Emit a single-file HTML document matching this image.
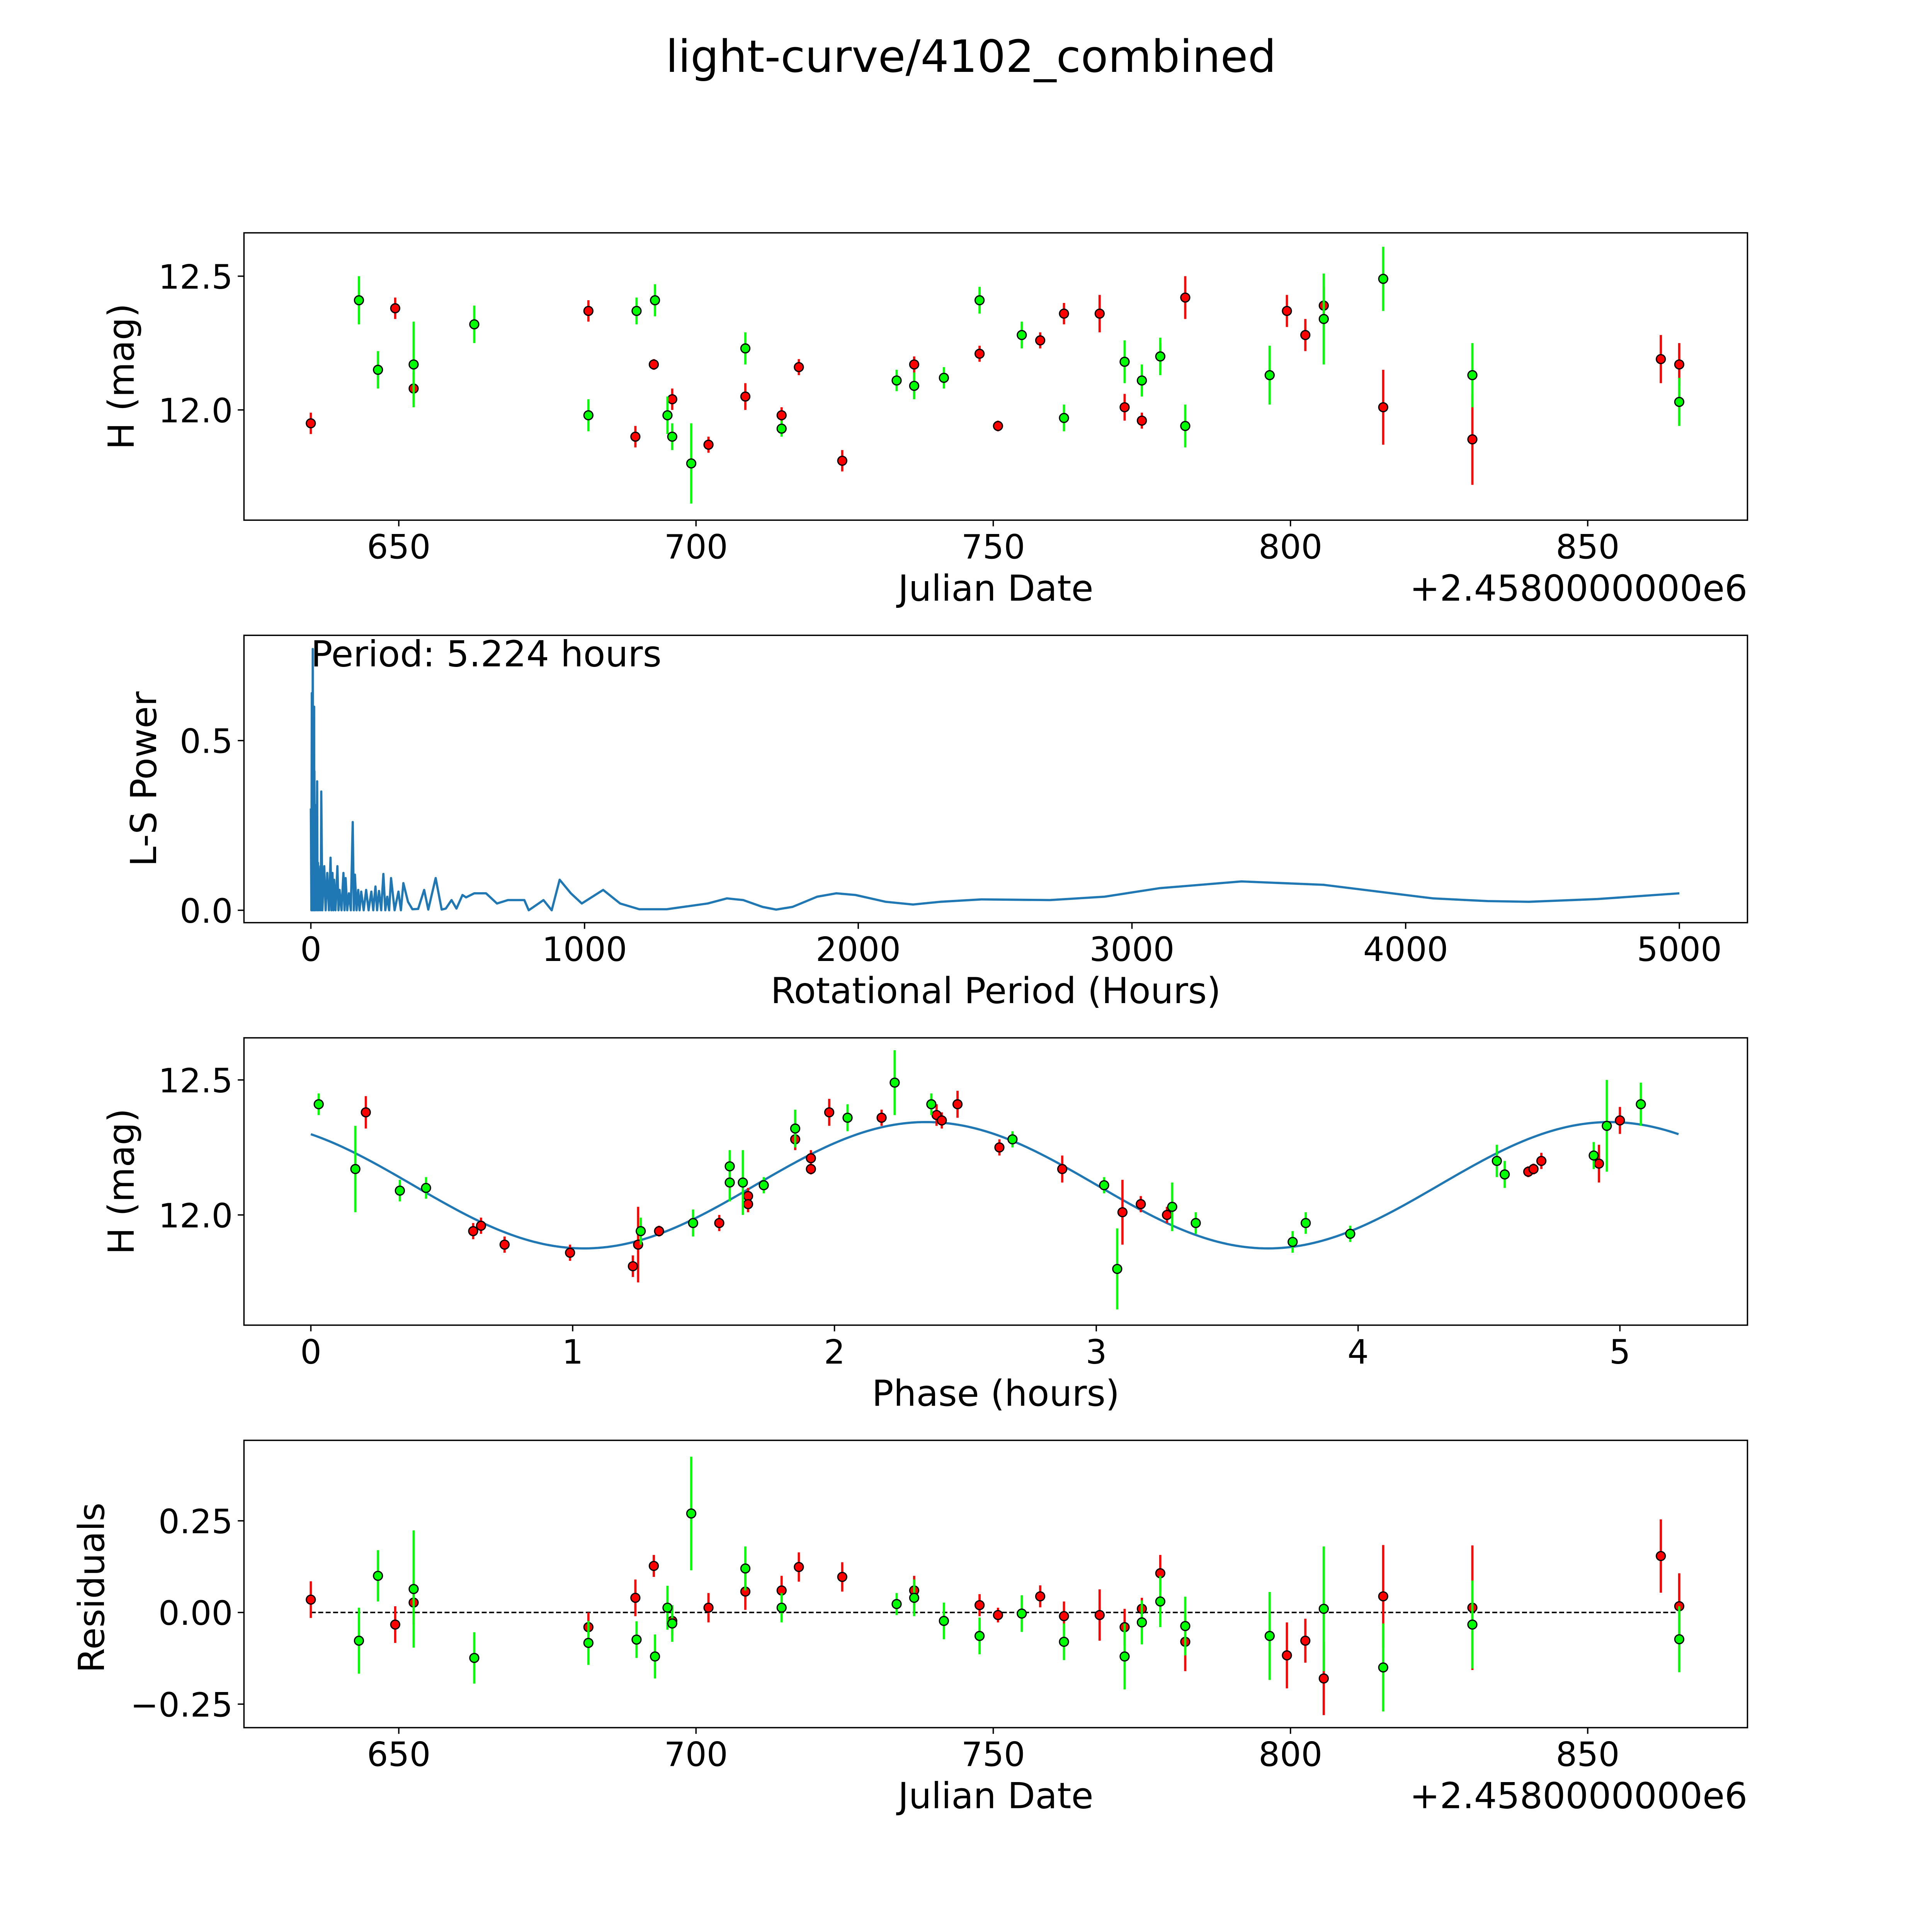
<!DOCTYPE html>
<html><head><meta charset="utf-8"><style>
html,body{margin:0;padding:0;background:#fff;overflow:hidden;width:100%;height:100%}
svg{display:block;width:100vw;height:100vh}
text{font-family:"DejaVu Sans","Liberation Sans",sans-serif;fill:#000}
</style></head><body>
<svg id="fig" viewBox="0 0 1560 1560" preserveAspectRatio="none" xmlns="http://www.w3.org/2000/svg">
<rect width="1560" height="1560" fill="#fff"/>
<text x="784" y="58" font-size="36" text-anchor="middle">light-curve/4102_combined</text>
</svg>
<script>
// ---------- Panel 1: raw light curve ----------
const redDates=[635.2,649.4,652.5,681.9,689.8,692.9,696.0,702.1,708.3,714.4,717.3,724.6,736.7,747.7,750.8,757.9,761.9,767.9,772.1,775.0,778.1,782.3,799.4,802.5,805.6,815.6,830.6,862.3,865.4];
const redMags=[11.95,12.38,12.08,12.37,11.90,12.17,12.04,11.87,12.05,11.98,12.16,11.81,12.17,12.21,11.94,12.26,12.36,12.36,12.01,11.96,12.20,12.42,12.37,12.28,12.39,12.01,11.89,12.19,12.17];
const redErrs=[0.04,0.04,0.06,0.04,0.04,0.02,0.04,0.03,0.05,0.03,0.03,0.04,0.03,0.03,0.02,0.03,0.04,0.07,0.05,0.03,0.05,0.08,0.06,0.06,0.07,0.14,0.17,0.09,0.08];
const greenDates=[643.3,646.5,652.5,662.7,681.9,690.0,693.1,695.2,696.0,699.2,708.3,714.4,733.75,736.7,741.7,747.7,754.8,761.9,772.1,775.0,778.1,782.3,796.5,805.6,815.6,830.6,865.4];
const greenMags=[12.41,12.15,12.17,12.32,11.98,12.37,12.41,11.98,11.90,11.80,12.23,11.93,12.11,12.09,12.12,12.41,12.28,11.97,12.18,12.11,12.20,11.94,12.13,12.34,12.49,12.13,12.03];
const greenErrs=[0.09,0.07,0.16,0.07,0.06,0.05,0.06,0.07,0.05,0.15,0.06,0.03,0.04,0.05,0.04,0.05,0.05,0.05,0.08,0.06,0.07,0.08,0.11,0.17,0.12,0.12,0.09];
const p1Ticks=[650,700,750,800,850];
const magTicks=[12.0,12.5];
// ---------- Panel 2: periodogram ----------
const periods=[0,2,3.5,5,7,9,12,12.5,13,14,16.5,19,23,24.5,26,30,35,36.5,38,42,49,54,60,66,72,75,79,82,85,90,97,101,105,112,119,123,127,133,139,146,153,157,161,167,173,178,184,193,202,211,221,228,236,242,249,257,265,272,279,286,293,306,320,329,338,355,371,392,414,429,456,478,493,514,532,554,567,597,640,680,720,780,796,850,880,909,950,990,1068,1130,1200,1300,1450,1520,1580,1650,1700,1760,1850,1920,1990,2100,2200,2300,2450,2700,2900,3100,3400,3700,3900,4100,4300,4450,4700,5000];
const powers=[0.30,0.0,0.64,0.0,0.77,0.0,0.60,0.0,0.41,0.0,0.31,0.0,0.38,0.0,0.14,0.0,0.13,0.0,0.35,0.0,0.13,0.0,0.11,0.0,0.155,0.0,0.11,0.0,0.09,0.0,0.13,0.0,0.06,0.0,0.11,0.0,0.095,0.0,0.05,0.0,0.26,0.0,0.105,0.0,0.06,0.0,0.055,0.0,0.06,0.0,0.055,0.0,0.07,0.0,0.057,0.0,0.107,0.0,0.04,0.0,0.095,0.0,0.055,0.0,0.08,0.025,0.003,0.004,0.06,0.002,0.095,0.002,0.005,0.03,0.005,0.045,0.038,0.05,0.05,0.02,0.03,0.03,0.0,0.03,0.0,0.09,0.05,0.02,0.06,0.02,0.003,0.003,0.02,0.035,0.03,0.01,0.002,0.01,0.04,0.05,0.045,0.025,0.017,0.025,0.032,0.03,0.04,0.065,0.085,0.075,0.055,0.035,0.027,0.025,0.033,0.05];
const p2XTicks=[0,1000,2000,3000,4000,5000];
const p2YTicks=[0.0,0.5];
// ---------- Panel 3: phased ----------
const phRed=[0.21,0.62,0.65,0.74,0.99,1.23,1.25,1.33,1.56,1.67,1.67,1.85,1.91,1.91,1.98,2.18,2.39,2.41,2.47,2.63,2.87,3.10,3.17,3.27,4.65,4.67,4.70,4.92,5.00];
const phRedMag=[12.38,11.94,11.96,11.89,11.86,11.81,11.89,11.94,11.97,12.07,12.04,12.28,12.21,12.17,12.38,12.36,12.37,12.35,12.41,12.25,12.17,12.01,12.04,12.00,12.16,12.17,12.20,12.19,12.35];
const phRedErr=[0.06,0.03,0.03,0.03,0.03,0.04,0.14,0.02,0.03,0.03,0.03,0.04,0.03,0.02,0.05,0.03,0.04,0.03,0.05,0.03,0.05,0.12,0.03,0.03,0.02,0.02,0.03,0.07,0.05];
const phGreen=[0.03,0.17,0.34,0.44,1.26,1.46,1.60,1.60,1.65,1.73,1.85,2.05,2.23,2.37,2.68,3.03,3.08,3.29,3.38,3.75,3.80,3.97,4.53,4.56,4.90,4.95,5.08];
const phGreenMag=[12.41,12.17,12.09,12.10,11.94,11.97,12.18,12.12,12.12,12.11,12.32,12.36,12.49,12.41,12.28,12.11,11.80,12.03,11.97,11.90,11.97,11.93,12.20,12.15,12.22,12.33,12.41];
const phGreenErr=[0.04,0.16,0.04,0.04,0.05,0.05,0.06,0.07,0.12,0.03,0.07,0.05,0.12,0.04,0.03,0.03,0.15,0.09,0.04,0.04,0.04,0.03,0.06,0.05,0.05,0.17,0.08];
const fitMean=12.11, fitAmp=0.234, fitPeak=2.35, fitHalfPeriod=2.612, fitEnd=5.224;
const p3XTicks=[0,1,2,3,4,5];
// ---------- Panel 4: residuals ----------
const resRedDates=[635.2,649.4,652.5,681.9,689.8,692.9,696.0,702.1,708.3,714.4,717.3,724.6,736.7,747.7,750.8,757.9,761.9,767.9,772.1,775.0,778.1,782.3,799.4,802.5,805.6,815.6,830.6,862.3,865.4];
const resRed=[0.035,-0.033,0.027,-0.04,0.04,0.127,-0.023,0.013,0.057,0.06,0.124,0.097,0.06,0.02,-0.007,0.044,-0.01,-0.007,-0.04,0.01,0.107,-0.08,-0.117,-0.077,-0.18,0.044,0.013,0.154,0.017];
const resRedErr=[0.05,0.05,0.06,0.04,0.05,0.03,0.04,0.04,0.05,0.04,0.04,0.04,0.04,0.03,0.02,0.03,0.04,0.07,0.05,0.03,0.05,0.08,0.09,0.06,0.1,0.14,0.17,0.1,0.09];
const resGreenDates=[643.3,646.5,652.5,662.7,681.9,690.0,693.1,695.2,696.0,699.2,708.3,714.4,733.75,736.7,741.7,747.7,754.8,761.9,772.1,775.0,778.1,782.3,796.5,805.6,815.6,830.6,865.4];
const resGreen=[-0.077,0.10,0.064,-0.124,-0.083,-0.074,-0.12,0.013,-0.03,0.27,0.12,0.013,0.023,0.04,-0.023,-0.064,-0.003,-0.08,-0.12,-0.027,0.03,-0.037,-0.064,0.01,-0.15,-0.033,-0.073];
const resGreenErr=[0.09,0.07,0.16,0.07,0.06,0.05,0.06,0.06,0.05,0.155,0.06,0.04,0.03,0.05,0.05,0.05,0.05,0.05,0.09,0.06,0.07,0.08,0.12,0.17,0.12,0.12,0.09];
const resTicks=[0.25,0.0,-0.25];
const resTickLabels=["0.25","0.00","\u22120.25"];

const NS="http://www.w3.org/2000/svg";
const svg=document.getElementById('fig');
function mk(tag,attrs,parent){const e=document.createElementNS(NS,tag);for(const k in attrs)e.setAttribute(k,attrs[k]);(parent||svg).appendChild(e);return e;}
function lin(d0,d1,r0,r1){return v=>r0+(v-d0)*(r1-r0)/(d1-d0);}
const L=197,R=1411;
function frame(g,top,bot){const r=mk('rect',{x:L,y:top,width:R-L,height:bot-top,fill:'none',stroke:'#000','stroke-width':1.1},g);}
function xticks(g,vals,labels,sx,bot){vals.forEach((v,i)=>{const x=sx(v);const t=mk('line',{x1:x,x2:x,y1:bot,y2:bot+5,stroke:'#000','stroke-width':1.1},g);const tx=mk('text',{x:x,y:bot+31,'font-size':27,'text-anchor':'middle'},g);tx.textContent=labels[i];});}
function yticks(g,vals,labels,sy){vals.forEach((v,i)=>{const y=sy(v);const t=mk('line',{x1:L-5,x2:L,y1:y,y2:y,stroke:'#000','stroke-width':1.1},g);const tx=mk('text',{x:L-9,y:y+10,'font-size':27,'text-anchor':'end'},g);tx.textContent=labels[i];});}
function label(g,txt,x,y,rot,name,anchor){const a={x:x,y:y,'font-size':29,'text-anchor':anchor||'middle'};if(rot)a.transform='rotate(-90 '+x+' '+y+')';const t=mk('text',a,g);t.textContent=txt;}
function points(g,xs,ys,es,sx,sy,color,name){
  xs.forEach((xv,i)=>{const x=sx(xv);const l=mk('line',{x1:x,x2:x,y1:sy(ys[i]-es[i]),y2:sy(ys[i]+es[i]),stroke:color,'stroke-width':1.8},g);});
  xs.forEach((xv,i)=>{const c=mk('circle',{cx:sx(xv),cy:sy(ys[i]),r:3.6,fill:color,stroke:'#000','stroke-width':1},g);});
}
function group(name){const g=mk('g',{});return g;}

// Panel 1
(function(){const g=group('light-curve-panel');const top=188,bot=420;
const sx=lin(650,700,322,562), sy=lin(12.0,12.5,331,223);
frame(g,top,bot);
xticks(g,p1Ticks,p1Ticks.map(String),sx,bot);
yticks(g,magTicks,magTicks.map(v=>v.toFixed(1)),sy);
points(g,redDates,redMags,redErrs,sx,sy,'#ff0000','red-filter');
points(g,greenDates,greenMags,greenErrs,sx,sy,'#00ff00','green-filter');
label(g,'Julian Date',804,485,false,'x-axis-title');
label(g,'+2.4580000000e6',1411,485,false,'x-axis-offset','end');
label(g,'H (mag)',108,304,true,'y-axis-title');})();

// Panel 2
(function(){const g=group('periodogram-panel');const top=513,bot=745;
const sx=lin(0,5000,251,1356), sy=lin(0,0.5,735,598);
frame(g,top,bot);
xticks(g,p2XTicks,p2XTicks.map(String),sx,bot);
yticks(g,p2YTicks,p2YTicks.map(v=>v.toFixed(1)),sy);
const d=periods.map((p,i)=>(i?'L':'M')+sx(p).toFixed(2)+' '+sy(powers[i]).toFixed(2)).join(' ');
const pth=mk('path',{d:d,fill:'none',stroke:'#1f77b4','stroke-width':1.8,'stroke-linejoin':'round'},g);

label(g,'Period: 5.224 hours',251,538,false,'period-annotation','start');
label(g,'Rotational Period (Hours)',804,810,false,'x-axis-title');
label(g,'L-S Power',126,629,true,'y-axis-title');})();

// Panel 3
(function(){const g=group('phased-panel');const top=838,bot=1070;
const sx=lin(0,5,251,1308), sy=lin(12.0,12.5,981,872);
frame(g,top,bot);
xticks(g,p3XTicks,p3XTicks.map(String),sx,bot);
yticks(g,magTicks,magTicks.map(v=>v.toFixed(1)),sy);
let d='';for(let i=0;i<=300;i++){const p=fitEnd*i/300;const m=fitMean+fitAmp*Math.cos(2*Math.PI*(p-fitPeak)/fitHalfPeriod);d+=(i?'L':'M')+sx(p).toFixed(2)+' '+sy(m).toFixed(2)+' ';}
const pth=mk('path',{d:d,fill:'none',stroke:'#1f77b4','stroke-width':1.8},g);

points(g,phRed,phRedMag,phRedErr,sx,sy,'#ff0000','red-filter');
points(g,phGreen,phGreenMag,phGreenErr,sx,sy,'#00ff00','green-filter');
label(g,'Phase (hours)',804,1135,false,'x-axis-title');
label(g,'H (mag)',108,954,true,'y-axis-title');})();

// Panel 4
(function(){const g=group('residuals-panel');const top=1163,bot=1395;
const sx=lin(650,700,322,562), sy=lin(0,0.25,1302,1228);
frame(g,top,bot);
xticks(g,p1Ticks,p1Ticks.map(String),sx,bot);
yticks(g,resTicks,resTickLabels,sy);
const zl=mk('line',{x1:sx(635.2),x2:sx(865.4),y1:sy(0),y2:sy(0),stroke:'#000','stroke-width':1.2,'stroke-dasharray':'4 2'},g);

points(g,resRedDates,resRed,resRedErr,sx,sy,'#ff0000','red-filter');
points(g,resGreenDates,resGreen,resGreenErr,sx,sy,'#00ff00','green-filter');
label(g,'Julian Date',804,1460,false,'x-axis-title');
label(g,'+2.4580000000e6',1411,1460,false,'x-axis-offset','end');
label(g,'Residuals',84,1282,true,'y-axis-title');})();
</script>
</body></html>
